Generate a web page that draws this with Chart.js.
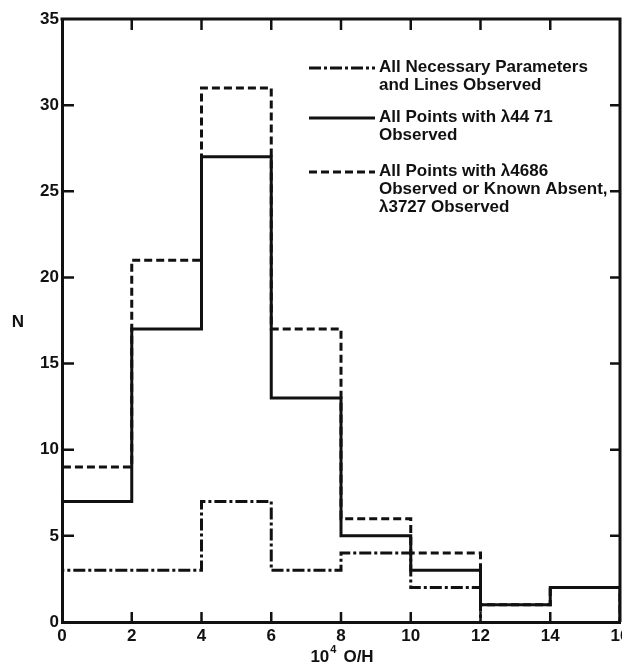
<!DOCTYPE html>
<html>
<head>
<meta charset="utf-8">
<script src="https://cdn.jsdelivr.net/npm/chart.js@4/dist/chart.umd.min.js"></script>
<style>
  html, body { margin: 0; padding: 0; background: #fff; }
  #wrap { width: 622px; height: 665px; position: relative; }
</style>
</head>
<body>
<div id="wrap"><canvas id="chart" width="622" height="665"></canvas></div>
<script>
// Histogram bins of 10^4 O/H (bin edges) and the number of nebulae per bin
const binEdges = [0, 2, 4, 6, 8, 10, 12, 14, 16];
const countsAllParams = [3, 3, 7, 3, 4, 2];            // bins 0–12 only
const countsL4471    = [7, 17, 27, 13, 5, 3, 1, 2];
const countsL4686    = [9, 21, 31, 17, 6, 4, 1, 2];

const xTickValues = [0, 2, 4, 6, 8, 10, 12, 14, 16];
const yTickValues = [0, 5, 10, 15, 20, 25, 30, 35];

const seriesNames = [
  ['All Necessary Parameters', 'and Lines Observed'],
  ['All Points with \u03BB44 71', 'Observed'],
  ['All Points with \u03BB4686', 'Observed or Known Absent,', '\u03BB3727 Observed']
];

const INK = '#111';
const DASH_DOT = [12, 3, 3, 3];
const DASHED = [8, 4];
const TEXT_FONT = 'bold 17px "Liberation Sans", Arial, sans-serif';

// Turn per-bin counts into the outline of a histogram (stepped line)
function histogramOutline(counts) {
  const pts = [{ x: binEdges[0], y: 0 }];
  counts.forEach((c, i) => pts.push({ x: binEdges[i], y: c }));
  const end = binEdges[counts.length];
  pts.push({ x: end, y: counts[counts.length - 1] });
  pts.push({ x: end, y: 0 });
  return pts;
}

// Frame, inward tick marks, axis titles and the legend
const decorations = {
  id: 'decorations',
  afterDraw(chart) {
    const { ctx, chartArea: a, scales: { x, y } } = chart;
    ctx.save();
    ctx.strokeStyle = INK;
    ctx.fillStyle = INK;
    ctx.lineCap = 'butt';

    // top and right sides of the frame
    ctx.lineWidth = 3;
    ctx.beginPath();
    ctx.moveTo(a.left - 1.5, a.top);
    ctx.lineTo(a.right, a.top);
    ctx.lineTo(a.right, a.bottom);
    ctx.stroke();

    // inward ticks
    ctx.lineWidth = 2.5;
    ctx.beginPath();
    xTickValues.slice(1, -1).forEach(v => {
      const px = x.getPixelForValue(v);
      ctx.moveTo(px, a.bottom); ctx.lineTo(px, a.bottom - 10);
      ctx.moveTo(px, a.top); ctx.lineTo(px, a.top + 11);
    });
    yTickValues.slice(1, -1).forEach(v => {
      const py = y.getPixelForValue(v);
      ctx.moveTo(a.left, py); ctx.lineTo(a.left + 12, py);
      ctx.moveTo(a.right, py); ctx.lineTo(a.right - 10, py);
    });
    ctx.stroke();

    // axis titles
    ctx.font = TEXT_FONT;
    ctx.textBaseline = 'middle';
    ctx.textAlign = 'center';
    ctx.fillText('N', 18, (a.top + a.bottom) / 2 + 2);

    const cx = (a.left + a.right) / 2 + 1;
    const ty = 657;
    const part1 = '10', sup = '4', part2 = 'O/H';
    ctx.textAlign = 'left';
    const w1 = ctx.measureText(part1).width;
    const w3 = ctx.measureText(part2).width;
    ctx.font = 'bold 11px "Liberation Sans", Arial, sans-serif';
    const w2 = ctx.measureText(sup).width;
    const total = w1 + w2 + 8 + w3;
    let sx = cx - total / 2;
    ctx.font = TEXT_FONT;
    ctx.fillText(part1, sx, ty);
    ctx.font = 'bold 11px "Liberation Sans", Arial, sans-serif';
    ctx.fillText(sup, sx + w1 + 1, ty - 7);
    ctx.font = TEXT_FONT;
    ctx.fillText(part2, sx + w1 + w2 + 8, ty);

    // legend
    const entries = [
      { dash: DASH_DOT, y0: 67, lines: seriesNames[0] },
      { dash: [],       y0: 117, lines: seriesNames[1] },
      { dash: DASHED,   y0: 171, lines: seriesNames[2] }
    ];
    const lineH = 18;
    entries.forEach(e => {
      ctx.lineWidth = 3;
      ctx.setLineDash(e.dash);
      ctx.beginPath();
      ctx.moveTo(309, e.y0 + 1);
      ctx.lineTo(375, e.y0 + 1);
      ctx.stroke();
      ctx.setLineDash([]);
      ctx.font = TEXT_FONT;
      ctx.textAlign = 'left';
      ctx.textBaseline = 'middle';
      e.lines.forEach((t, i) => ctx.fillText(t, 379, e.y0 + i * lineH));
    });
    ctx.restore();
  }
};

const common = {
  borderColor: INK,
  borderWidth: 3,
  pointRadius: 0,
  fill: false,
  stepped: 'before',
  tension: 0
};

new Chart(document.getElementById('chart'), {
  type: 'line',
  data: {
    datasets: [
      Object.assign({ label: seriesNames[2].join(' '), data: histogramOutline(countsL4686), borderDash: DASHED }, common),
      Object.assign({ label: seriesNames[1].join(' '), data: histogramOutline(countsL4471) }, common),
      Object.assign({ label: seriesNames[0].join(' '), data: histogramOutline(countsAllParams), borderDash: DASH_DOT }, common)
    ]
  },
  options: {
    responsive: false,
    animation: false,
    layout: { padding: { top: 19, right: 2, left: 0, bottom: 0 } },
    plugins: { legend: { display: false }, tooltip: { enabled: false } },
    scales: {
      x: {
        type: 'linear',
        min: 0, max: 16,
        afterBuildTicks(scale) { scale.ticks = xTickValues.map(v => ({ value: v })); },
        afterFit(scale) { scale.height = 43; scale.paddingLeft = 0; scale.paddingRight = 0; },
        grid: { display: false, drawTicks: false },
        border: { display: true, color: INK, width: 3 },
        ticks: { color: INK, padding: 4, maxRotation: 0, font: { family: '"Liberation Sans", Arial, sans-serif', size: 17, weight: 'bold' } }
      },
      y: {
        min: 0, max: 35,
        afterBuildTicks(scale) { scale.ticks = yTickValues.map(v => ({ value: v })); },
        afterFit(scale) { scale.width = 62; scale.paddingTop = 0; scale.paddingBottom = 0; },
        grid: { display: false, drawTicks: false },
        border: { display: true, color: INK, width: 3 },
        ticks: { color: INK, padding: 3, font: { family: '"Liberation Sans", Arial, sans-serif', size: 17, weight: 'bold' } }
      }
    }
  },
  plugins: [decorations]
});
</script>
</body>
</html>
